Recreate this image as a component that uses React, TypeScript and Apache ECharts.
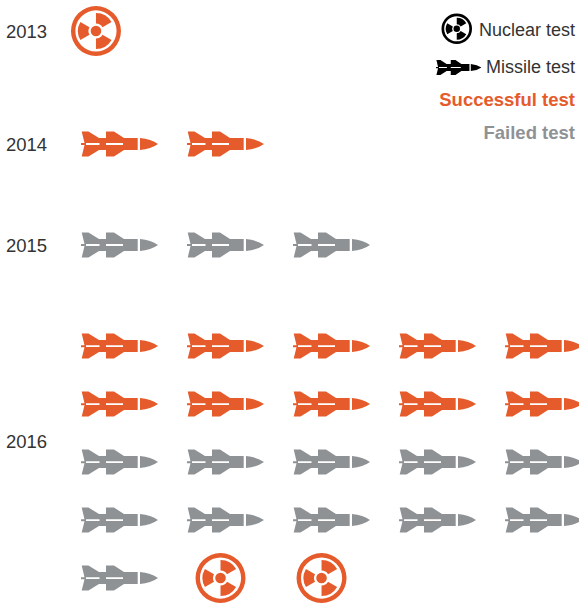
import React, { useEffect, useRef } from "react";
import * as echarts from "echarts";

type Test = "missileOk" | "missileFail" | "nuclearOk";

const years = [2013, 2014, 2015, 2016];
const tests2013: Test[] = ["nuclearOk"];
const tests2014: Test[] = ["missileOk", "missileOk"];
const tests2015: Test[] = ["missileFail", "missileFail", "missileFail"];
const tests2016: Test[] = [
  "missileOk", "missileOk", "missileOk", "missileOk", "missileOk",
  "missileOk", "missileOk", "missileOk", "missileOk", "missileOk",
  "missileFail", "missileFail", "missileFail", "missileFail", "missileFail",
  "missileFail", "missileFail", "missileFail", "missileFail", "missileFail",
  "missileFail", "nuclearOk", "nuclearOk",
];
const testsByYear = [tests2013, tests2014, tests2015, tests2016];

const ORANGE = "#E55B2B";
const GREY = "#8F9295";
const INK = "#333333";
const FONT = "'Liberation Sans', Arial, sans-serif";

const W = 579;
const H = 604;
const COL_PX = 106;
const ROW_PX = 58;
const FIRST_COL_PX = 119.5;
const PER_ROW = 5;
const yearRowStart = [0.534, 2.483, 4.224, 5.966];
const yearLabelRow = [0.546, 2.49, 4.236, 7.615];

const MISSILE =
  "M0.7 0 L7.5 0 L18 6.5 L25 6.5 L25 0 L33 0 L43 6.5 L56.7 6.5 L56.7 18.5 L43 18.5 L33 25 L25 25 L25 18.5 L18 18.5 L7.5 25 L0.7 25 L3.5 13.6 L0 13.6 L0 11.6 L3.5 11.6 Z " +
  "M5 11.6 L5 13.4 L18.5 13.4 L18.5 11.6 Z " +
  "M25 11.6 L25 13.4 L42 13.4 L42 11.6 Z " +
  "M59 6.5 Q70 7.5 77 12.5 Q70 17.5 59 18.5 Z";

function circle(r: number, sweep: number) {
  const c = 25;
  return `M${c - r} ${c} A${r} ${r} 0 1 ${sweep} ${c + r} ${c} A${r} ${r} 0 1 ${sweep} ${c - r} ${c} Z `;
}
function blade(a1: number, a2: number) {
  const R = 18;
  const r = 7.5;
  const p = (rad: number, deg: number) => {
    const t = (deg * Math.PI) / 180;
    return `${(25 + rad * Math.cos(t)).toFixed(2)} ${(25 + rad * Math.sin(t)).toFixed(2)}`;
  };
  return `M${p(R, a1)} A${R} ${R} 0 0 1 ${p(R, a2)} L${p(r, a2)} A${r} ${r} 0 0 0 ${p(r, a1)} Z `;
}
const NUCLEAR =
  circle(25, 1) + circle(20.6, 0) + circle(5.3, 1) +
  blade(-90, -30) + blade(30, 90) + blade(150, 210);

echarts.graphic.registerShape("missileIcon", echarts.graphic.extendPath(MISSILE, {}));
echarts.graphic.registerShape("nuclearIcon", echarts.graphic.extendPath(NUCLEAR, {}));

function layout(kind: Test) {
  const out: number[][] = [];
  testsByYear.forEach((tests, y) => {
    tests.forEach((t, i) => {
      const col = i % PER_ROW;
      const row = yearRowStart[y] + Math.floor(i / PER_ROW);
      const isNuke = t === "nuclearOk";
      const x = isNuke ? (col === 0 ? -0.222 : col * 0.953) : col;
      if (t === kind) out.push([x, row]);
    });
  });
  return out;
}

const missileSymbol = "path://" + MISSILE;
const nuclearSymbol = "path://" + NUCLEAR;

function legendText(text: string, y: number, color: string, bold: boolean) {
  return {
    type: "text",
    x: 575,
    y,
    style: {
      text,
      fill: color,
      font: `${bold ? "bold " : ""}${bold ? 18.5 : 18}px ${FONT}`,
      textAlign: "right",
      textVerticalAlign: "middle",
    },
  };
}

export default function App() {
  const ref = useRef<HTMLDivElement>(null);
  useEffect(() => {
    document.body.style.margin = "0";
    const chart = echarts.init(ref.current!, undefined, { renderer: "svg" });
    chart.setOption({
      animation: false,
      backgroundColor: "#ffffff",
      grid: { left: 0, right: 0, top: 0, bottom: 0 },
      xAxis: {
        type: "value",
        min: -FIRST_COL_PX / COL_PX,
        max: (W - FIRST_COL_PX) / COL_PX,
        show: false,
        splitLine: { show: false },
      },
      yAxis: {
        type: "value",
        inverse: true,
        min: 0,
        max: H / ROW_PX,
        axisLine: { show: false },
        axisTick: { show: false },
        splitLine: { show: false },
        axisLabel: {
          inside: true,
          margin: 6,
          customValues: yearLabelRow,
          showMinLabel: true,
          showMaxLabel: true,
          hideOverlap: false,
          color: INK,
          fontSize: 18.5,
          fontFamily: FONT,
          formatter: (v: number) => {
            const i = yearLabelRow.findIndex((r) => Math.abs(r - v) < 1e-6);
            return i >= 0 ? String(years[i]) : "";
          },
        },
      },
      series: [
        {
          name: "Successful missile test",
          type: "scatter",
          symbol: missileSymbol,
          symbolSize: [77, 25],
          clip: false,
          itemStyle: { color: ORANGE, opacity: 1 },
          data: layout("missileOk"),
        },
        {
          name: "Failed missile test",
          type: "scatter",
          symbol: missileSymbol,
          symbolSize: [77, 25],
          clip: false,
          itemStyle: { color: GREY, opacity: 1 },
          data: layout("missileFail"),
        },
        {
          name: "Successful nuclear test",
          type: "scatter",
          symbol: nuclearSymbol,
          symbolSize: [50, 50],
          clip: false,
          itemStyle: { color: ORANGE, opacity: 1 },
          data: layout("nuclearOk"),
        },
      ],
      graphic: [
        { type: "nuclearIcon", x: 441.5, y: 13.5, scaleX: 0.61, scaleY: 0.61, style: { fill: "#000000" } },
        { type: "missileIcon", x: 436, y: 60, scaleX: 0.59, scaleY: 0.6, style: { fill: "#000000" } },
        legendText("Nuclear test", 30, INK, false),
        legendText("Missile test", 67, INK, false),
        legendText("Successful test", 99.5, ORANGE, true),
        legendText("Failed test", 132.5, GREY, true),
      ],
    });
    return () => chart.dispose();
  }, []);
  return <div ref={ref} style={{ width: W, height: H }} />;
}
